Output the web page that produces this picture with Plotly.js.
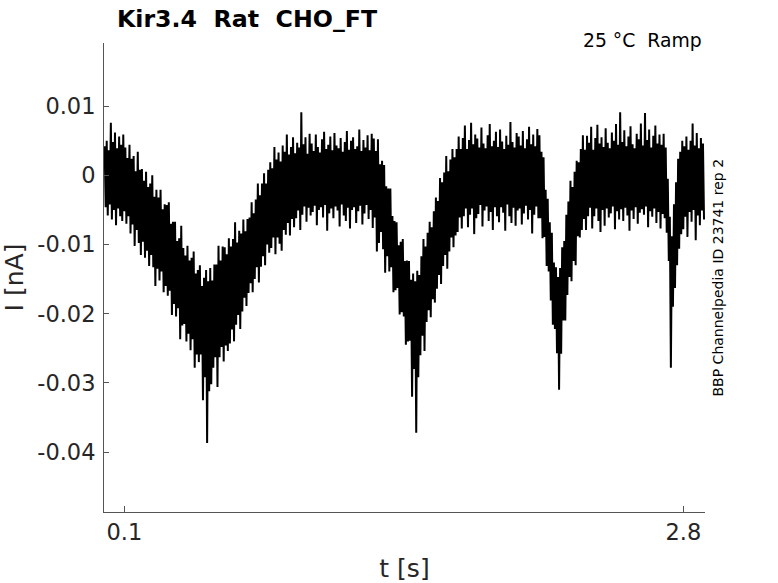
<!DOCTYPE html>
<html>
<head>
<meta charset="utf-8">
<script src="https://cdn.plot.ly/plotly-3.0.1.min.js"></script>
<style>
html,body{margin:0;padding:0;background:#fff;}
#chart{width:778px;height:583px;}
</style>
</head>
<body>
<div id="chart"></div>
<script>
// Recorded current trace (pA), read from the picture as an upper/lower
// excursion per 10 ms window; samples alternate high / low every 5 ms.
const tStart = 0.005;   // s, first sample
const dt = 0.005;       // s, sample spacing of the interleaved trace

const hiPA = [
  4.2, 5.0, 3.6, 7.6, 4.8, 6.2, 3.9, 5.6, 4.4, 5.9,
  4.0, 2.5, 4.4, 2.4, 2.8, 0.6, 3.4, 0.8, 0.9, -0.8,
  0.5, -1.7, -1.2, 0.0, -3.1, -2.1, -3.2, -2.1, -4.9, -4.2,
  -4.3, -3.9, -7.0, -6.7, -6.7, -9.5, -9.1, -7.3, -10.5, -11.6,
  -10.2, -12.3, -11.9, -11.0, -14.2, -13.7, -13.0, -16.0, -14.8, -13.7,
  -15.3, -13.4, -15.2, -12.9, -12.9, -10.2, -12.3, -10.3, -10.4, -11.4,
  -9.1, -10.3, -9.2, -6.8, -9.7, -8.0, -8.4, -6.4, -8.1, -6.3,
  -6.1, -3.9, -5.5, -3.5, -1.2, -2.9, -1.2, 0.3, -1.2, 0.8,
  1.9, 1.0, 4.1, 2.3, 3.3, 2.0, 4.3, 3.4, 5.9, 3.0,
  4.1, 5.5, 3.2, 4.7, 4.0, 9.1, 4.5, 5.5, 3.1, 6.0,
  4.6, 3.5, 5.9, 4.1, 3.3, 5.2, 6.3, 3.8, 4.4, 5.6,
  3.6, 6.1, 4.3, 3.9, 5.4, 3.4, 4.8, 6.4, 3.7, 5.0,
  5.5, 3.8, 4.2, 6.6, 3.5, 5.1, 4.0, 5.8, 3.6, 6.0,
  5.3, 3.5, 5.2, 1.6, 2.1, 1.5, -1.6, -1.9, -1.9, -5.9,
  -6.6, -6.8, -10.1, -9.6, -9.2, -12.4, -12.3, -12.4, -15.1, -14.2,
  -15.3, -13.8, -14.4, -11.7, -9.2, -10.3, -8.3, -6.7, -7.5, -5.2,
  -3.2, -3.7, -0.4, -1.0, 0.4, 2.8, 0.6, 2.3, 3.8, 2.6,
  3.8, 5.6, 3.8, 5.4, 7.2, 3.8, 5.1, 7.6, 4.5, 5.9,
  5.3, 4.0, 6.9, 4.6, 3.9, 5.8, 7.4, 4.2, 5.0, 6.3,
  4.1, 6.6, 4.9, 3.8, 5.7, 4.4, 7.7, 4.8, 4.0, 6.1,
  5.6, 4.3, 6.4, 3.9, 5.2, 7.0, 4.5, 5.9, 4.2, 6.7,
  5.8, 3.4, 2.6, -2.1, -3.4, -6.8, -8.3, -12.6, -13.3, -14.7,
  -13.4, -10.4, -9.5, -5.7, -3.8, -0.8, -1.7, 0.5, 2.1, 1.9,
  3.8, 5.8, 3.7, 5.7, 4.7, 7.0, 3.7, 5.4, 7.3, 4.6,
  5.5, 4.1, 6.8, 4.7, 3.9, 6.2, 5.0, 7.4, 4.4, 9.1,
  4.8, 6.5, 4.2, 5.6, 7.1, 4.5, 3.9, 6.0, 5.2, 7.5,
  4.3, 9.0, 5.1, 6.6, 4.0, 5.7, 7.2, 4.6, 5.9, 4.4,
  6.0, 4.0, -0.5, -6.0, -8.8, -4.2, -1.0, 2.4, 3.4, 5.0,
  4.2, 5.6, 3.7, 5.0, 7.5, 4.3, 6.1, 3.9, 5.4, 4.6
];

const loPA = [
  -4.6, -5.8, -4.2, -6.4, -5.0, -7.2, -4.8, -5.9, -6.6, -5.2,
  -7.0, -5.9, -8.4, -7.1, -10.2, -7.9, -9.8, -11.5, -9.6, -11.9,
  -10.9, -13.1, -11.5, -13.3, -16.0, -13.5, -15.2, -13.9, -16.9, -16.0,
  -17.4, -16.7, -20.2, -18.6, -20.4, -19.2, -23.7, -21.7, -21.5, -24.0,
  -22.9, -25.3, -23.7, -27.8, -25.9, -27.0, -25.9, -32.5, -29.2, -38.7,
  -31.2, -30.2, -27.8, -26.3, -30.6, -26.3, -24.8, -26.9, -24.6, -25.4,
  -24.3, -22.3, -24.0, -21.6, -20.2, -22.2, -19.7, -17.7, -18.9, -17.0,
  -15.6, -16.9, -15.0, -13.3, -15.5, -13.2, -11.7, -13.0, -10.0, -11.2,
  -10.5, -9.0, -11.4, -9.0, -9.9, -10.9, -7.9, -8.6, -6.9, -8.7,
  -6.3, -7.5, -6.2, -5.1, -7.9, -5.7, -4.5, -6.7, -4.7, -5.8,
  -5.3, -4.4, -7.2, -5.0, -4.6, -6.1, -4.3, -8.0, -5.5, -4.8,
  -6.2, -4.5, -5.1, -7.4, -4.2, -5.8, -6.6, -4.7, -7.7, -5.0,
  -4.6, -6.9, -5.2, -4.4, -7.1, -5.5, -4.3, -6.3, -5.0, -7.6,
  -6.1, -11.0, -9.8, -8.2, -10.7, -14.1, -11.7, -13.9, -13.3, -16.9,
  -16.6, -16.3, -20.1, -19.8, -20.4, -24.5, -24.0, -23.9, -32.0, -28.0,
  -37.2, -29.2, -26.0, -23.2, -25.4, -21.2, -19.5, -20.5, -17.9, -18.4,
  -16.4, -14.4, -15.7, -13.1, -11.5, -13.5, -11.0, -9.0, -10.4, -8.7,
  -8.2, -6.1, -7.7, -5.9, -4.8, -7.5, -5.7, -4.8, -8.5, -6.2,
  -5.6, -4.3, -7.4, -5.1, -4.5, -6.6, -5.3, -7.9, -4.6, -5.9,
  -6.8, -4.6, -5.4, -8.0, -4.2, -5.9, -6.9, -4.7, -7.3, -5.1,
  -4.8, -7.1, -5.5, -4.4, -6.4, -5.0, -8.4, -5.7, -4.5, -6.2,
  -6.2, -9.1, -8.9, -13.1, -13.9, -18.1, -21.6, -22.2, -25.7, -31.0,
  -25.8, -21.0, -21.0, -17.3, -14.7, -15.3, -12.4, -13.0, -8.8, -9.0,
  -7.9, -6.3, -7.9, -5.9, -4.7, -7.7, -5.9, -4.8, -6.6, -8.2,
  -5.0, -7.3, -4.8, -6.1, -5.5, -4.5, -7.8, -5.2, -6.4, -4.9,
  -6.6, -4.7, -5.8, -8.0, -5.1, -6.3, -4.6, -7.0, -5.4, -4.9,
  -5.7, -4.5, -7.5, -5.2, -6.0, -4.8, -6.9, -5.3, -7.7, -5.6,
  -6.2, -8.3, -12.4, -27.8, -19.0, -16.3, -13.0, -10.6, -8.5, -7.8,
  -6.0, -8.9, -5.3, -6.7, -5.0, -9.4, -5.8, -7.2, -5.1, -6.4
];

const xTickVals = [0.1, 2.8];
const xTickText = ['0.1', '2.8'];
const yTickVals = [0.01, 0, -0.01, -0.02, -0.03, -0.04];
const yTickText = ['0.01', '0', '-0.01', '-0.02', '-0.03', '-0.04'];

const chartTitle = 'Kir3.4\u00a0\u00a0Rat\u00a0\u00a0CHO_FT';
const condText = '25 \u00b0C\u00a0\u00a0Ramp';
const sideText = 'BBP Channelpedia ID 23741 rep 2';

// interleave high / low samples into one trace, pA -> nA
const tx = [], iy = [];
for (let i = 0; i < hiPA.length; i++) {
  tx.push(tStart + 2 * i * dt);       iy.push(hiPA[i] / 1000);
  tx.push(tStart + (2 * i + 1) * dt); iy.push(loPA[i] / 1000);
}

const font = 'DejaVu Sans, Liberation Sans, sans-serif';

const data = [{
  x: tx, y: iy, type: 'scatter', mode: 'lines',
  line: {color: '#000000', width: 2, simplify: false},
  hoverinfo: 'skip', showlegend: false
}];

const layout = {
  width: 778, height: 583,
  margin: {l: 104, r: 73, t: 43, b: 71, pad: 0},
  paper_bgcolor: '#ffffff', plot_bgcolor: '#ffffff',
  showlegend: false,
  font: {family: font, color: '#262626'},
  title: {
    text: '<b>' + chartTitle + '</b>',
    font: {family: font, size: 23.7, color: '#000000'},
    xref: 'paper', x: (247 - 104) / 601, xanchor: 'center',
    yref: 'container', y: 1 - 19 / 583, yanchor: 'middle'
  },
  xaxis: {
    range: [0.0019, 2.9048],
    tickmode: 'array', tickvals: xTickVals, ticktext: xTickText,
    ticks: 'inside', ticklen: 6, tickwidth: 1, tickcolor: '#555555',
    showline: true, linecolor: '#555555', linewidth: 1,
    showgrid: false, zeroline: false, mirror: false,
    tickfont: {family: font, size: 22.5, color: '#262626'},
    title: {text: 't [s]', font: {family: font, size: 25, color: '#262626'}, standoff: 16}
  },
  yaxis: {
    range: [-0.04866, 0.01912],
    tickmode: 'array', tickvals: yTickVals, ticktext: yTickText,
    ticks: 'inside', ticklen: 5, tickwidth: 1, tickcolor: '#555555',
    showline: true, linecolor: '#555555', linewidth: 1,
    showgrid: false, zeroline: false, mirror: false,
    ticklabelstandoff: 3,
    tickfont: {family: font, size: 22.5, color: '#262626'},
    title: {text: 'I [nA]', font: {family: font, size: 25, color: '#262626'}, standoff: 9}
  },
  annotations: [
    {
      text: condText, xref: 'paper', yref: 'paper',
      x: (704 - 104) / 601, y: (512 - 41) / 469, xanchor: 'right', yanchor: 'middle',
      showarrow: false, font: {family: font, size: 18.8, color: '#000000'}
    },
    {
      text: sideText, xref: 'paper', yref: 'paper',
      x: (717 - 104) / 601, y: (512 - 277.5) / 469, xanchor: 'center', yanchor: 'middle',
      textangle: -90, showarrow: false, font: {family: font, size: 14, color: '#000000'}
    }
  ]
};

Plotly.newPlot('chart', data, layout, {displayModeBar: false, staticPlot: true});
</script>
</body>
</html>
